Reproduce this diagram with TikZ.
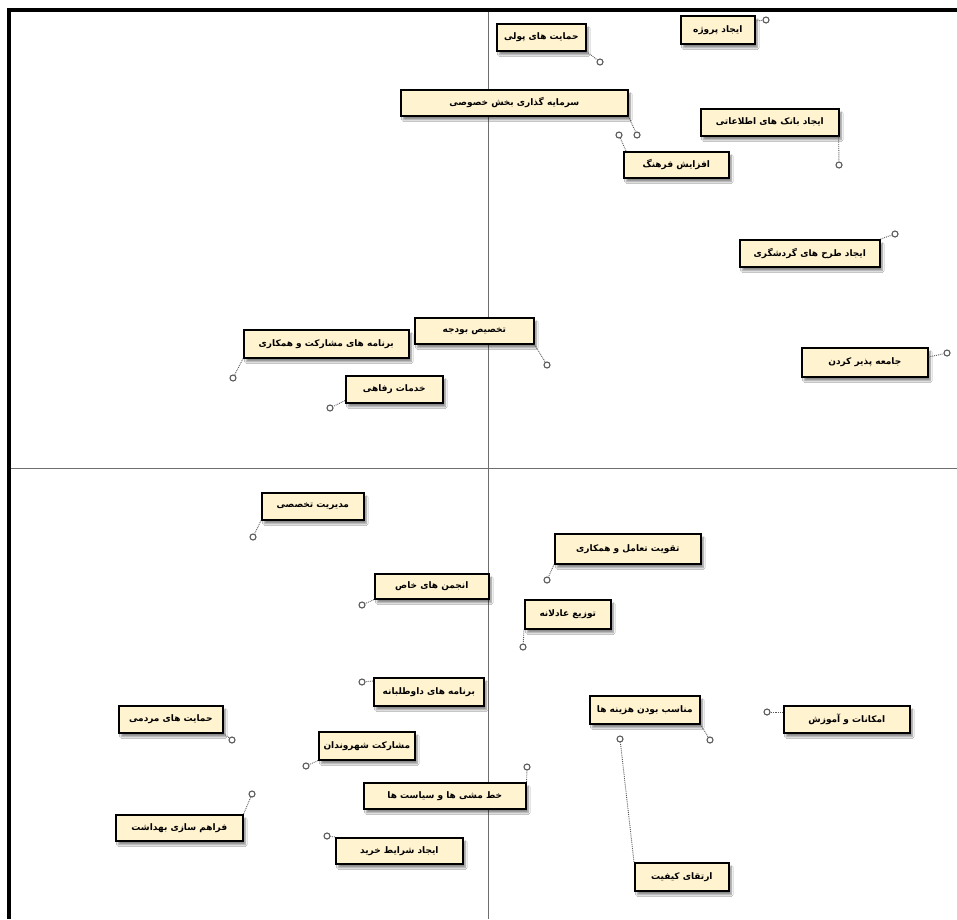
\documentclass[tikz,border=0pt]{standalone}
\usepackage{fontspec}
\newfontfamily\fa[Script=Arabic]{DejaVu Sans}
\TeXXeTstate=1
\usetikzlibrary{shadows.blur}
\definecolor{boxfill}{RGB}{255,243,208}
\definecolor{axisgray}{RGB}{110,110,110}
\definecolor{conngray}{RGB}{90,90,90}
\tikzset{
  bx/.style={draw=black, line width=1.6pt, fill=boxfill, anchor=north west, inner sep=1pt,
    font=\fa\bfseries\fontsize{9}{11}\selectfont,
    blur shadow={shadow xshift=2.5pt, shadow yshift=-4pt, shadow blur steps=6, shadow opacity=45}},
  knob/.style={circle, draw=conngray, line width=1.1pt, fill=white, inner sep=0pt, minimum size=6pt},
  conn/.style={conngray, line width=0.9pt, densely dotted},
  axisline/.style={axisgray, line width=0.8pt},
}
\begin{document}
\begin{tikzpicture}[x=1pt,y=-1pt]
\useasboundingbox (0,0) rectangle (957,919);
\fill[white] (0,0) rectangle (957,919);
% axes
\draw[axisline] (488,10) -- (488,919);
\draw[axisline] (9,468) -- (957,468);
% frame
\draw[line width=3.5pt] (9,919) -- (9,10) -- (957,10);
% boxes
\node[bx, minimum width=89pt, minimum height=27pt] (b1) at (496,23) {\beginR حمایت های پولی\endR};
\node[bx, minimum width=74pt, minimum height=28pt] (b2) at (680,15) {\beginR ایجاد پروژه\endR};
\node[bx, minimum width=227pt, minimum height=26pt] (b3) at (400,89) {\beginR سرمایه گذاری بخش خصوصی\endR};
\node[bx, minimum width=105pt, minimum height=26pt] (b4) at (623,151) {\beginR افزایش فرهنگ\endR};
\node[bx, minimum width=138pt, minimum height=27pt] (b5) at (700,108) {\beginR ایجاد بانک های اطلاعاتی\endR};
\node[bx, minimum width=140pt, minimum height=27pt] (b6) at (739,239) {\beginR ایجاد طرح های گردشگری\endR};
\node[bx, minimum width=126pt, minimum height=29pt] (b7) at (801,347) {\beginR جامعه پذیر کردن\endR};
\node[bx, minimum width=119pt, minimum height=26pt] (b8) at (414,317) {\beginR تخصیص بودجه\endR};
\node[bx, minimum width=165pt, minimum height=28pt] (b9) at (243,329) {\beginR برنامه های مشارکت و همکاری\endR};
\node[bx, minimum width=97pt, minimum height=27pt] (b10) at (345,375) {\beginR خدمات رفاهی\endR};
\node[bx, minimum width=102pt, minimum height=27pt] (b11) at (261,492) {\beginR مدیریت تخصصی\endR};
\node[bx, minimum width=114pt, minimum height=25pt] (b12) at (374,573) {\beginR انجمن های خاص\endR};
\node[bx, minimum width=146pt, minimum height=30pt] (b13) at (554,533) {\beginR تقویت تعامل و همکاری\endR};
\node[bx, minimum width=86pt, minimum height=29pt] (b14) at (524,599) {\beginR توزیع عادلانه\endR};
\node[bx, minimum width=110pt, minimum height=28pt] (b15) at (373,677) {\beginR برنامه های داوطلبانه\endR};
\node[bx, minimum width=104pt, minimum height=27pt] (b16) at (118,705) {\beginR حمایت های مردمی\endR};
\node[bx, minimum width=96pt, minimum height=28pt] (b17) at (318,731) {\beginR مشارکت شهروندان\endR};
\node[bx, minimum width=110pt, minimum height=28pt] (b18) at (589,695) {\beginR مناسب بودن هزینه ها\endR};
\node[bx, minimum width=126pt, minimum height=27pt] (b19) at (783,705) {\beginR امکانات و آموزش\endR};
\node[bx, minimum width=162pt, minimum height=26pt] (b20) at (363,782) {\beginR خط مشی ها و سیاست ها\endR};
\node[bx, minimum width=127pt, minimum height=26pt] (b21) at (115,814) {\beginR فراهم سازی بهداشت\endR};
\node[bx, minimum width=127pt, minimum height=26pt] (b22) at (335,837) {\beginR ایجاد شرایط خرید\endR};
\node[bx, minimum width=94pt, minimum height=28pt] (b23) at (634,862) {\beginR ارتقای کیفیت\endR};
% knobs
\node[knob] (k1) at (600,62) {};
\node[knob] (k2) at (766,20) {};
\node[knob] (k3) at (637,135) {};
\node[knob] (k4) at (619,135) {};
\node[knob] (k5) at (839,165) {};
\node[knob] (k6) at (895,234) {};
\node[knob] (k7) at (947,353) {};
\node[knob] (k8) at (547,365) {};
\node[knob] (k9) at (233,378) {};
\node[knob] (k10) at (330,408) {};
\node[knob] (k11) at (253,537) {};
\node[knob] (k12) at (362,605) {};
\node[knob] (k13) at (547,580) {};
\node[knob] (k14) at (523,647) {};
\node[knob] (k15) at (362,682) {};
\node[knob] (k16) at (232,740) {};
\node[knob] (k17) at (306,766) {};
\node[knob] (k18) at (710,740) {};
\node[knob] (k19) at (767,712) {};
\node[knob] (k20) at (527,767) {};
\node[knob] (k21) at (252,794) {};
\node[knob] (k22) at (327,836) {};
\node[knob] (k23) at (620,739) {};
% connectors
\draw[conn] (b1.south east) -- (k1);
\draw[conn] ([yshift=-6pt]b2.north east) -- (k2);
\draw[conn] (b3.south east) -- (k3);
\draw[conn] ([xshift=3pt]b4.north west) -- (k4);
\draw[conn] ([xshift=-1pt]b5.south east) -- (k5);
\draw[conn] (b6.north east) -- (k6);
\draw[conn] ([yshift=-10pt]b7.north east) -- (k7);
\draw[conn] (b8.south east) -- (k8);
\draw[conn] (b9.south west) -- (k9);
\draw[conn] ([yshift=3pt]b10.south west) -- (k10);
\draw[conn] (b11.south west) -- (k11);
\draw[conn] (b12.south west) -- (k12);
\draw[conn] (b13.south west) -- (k13);
\draw[conn] (b14.south west) -- (k14);
\draw[conn] ([yshift=-4pt]b15.north west) -- (k15);
\draw[conn] (b16.south east) -- (k16);
\draw[conn] (b17.south west) -- (k17);
\draw[conn] (b18.south east) -- (k18);
\draw[conn] ([yshift=-7pt]b19.north west) -- (k19);
\draw[conn] (b20.north east) -- (k20);
\draw[conn] (b21.north east) -- (k21);
\draw[conn] (b22.north west) -- (k22);
\draw[conn] (b23.north west) -- (k23);
\end{tikzpicture}
\end{document}
